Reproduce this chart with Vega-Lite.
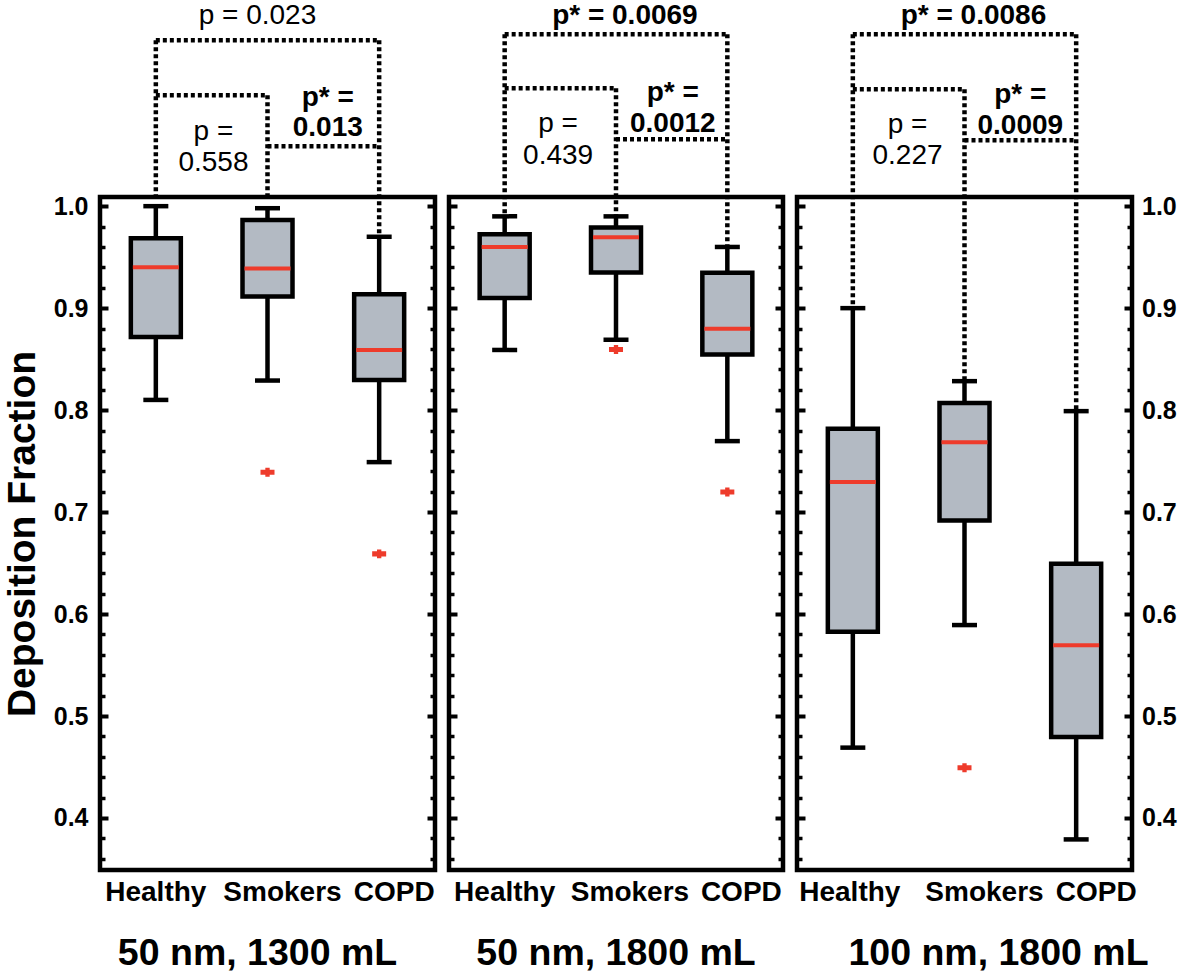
{
  "$schema": "https://vega.github.io/schema/vega-lite/v6.json",
  "padding": {"left": 0, "top": 0, "right": 0, "bottom": 0},
  "background": "white",
  "config": {
    "view": {"stroke": "black", "strokeWidth": 4.5},
    "font": "Liberation Sans",
    "concat": {"spacing": 4}
  },
  "datasets": {
    "boxes": [
      {"panel": "p1", "group": "Healthy", "min": 0.81, "q1": 0.8716, "median": 0.94, "q3": 0.9686, "max": 1.0},
      {"panel": "p1", "group": "Smokers", "min": 0.829, "q1": 0.9113, "median": 0.939, "q3": 0.9865, "max": 0.998},
      {"panel": "p1", "group": "COPD", "min": 0.749, "q1": 0.8296, "median": 0.859, "q3": 0.9137, "max": 0.970},
      {"panel": "p2", "group": "Healthy", "min": 0.859, "q1": 0.910, "median": 0.960, "q3": 0.9725, "max": 0.990},
      {"panel": "p2", "group": "Smokers", "min": 0.869, "q1": 0.935, "median": 0.9696, "q3": 0.979, "max": 0.990},
      {"panel": "p2", "group": "COPD", "min": 0.7696, "q1": 0.8546, "median": 0.8797, "q3": 0.9346, "max": 0.960},
      {"panel": "p3", "group": "Healthy", "min": 0.469, "q1": 0.5827, "median": 0.7294, "q3": 0.7817, "max": 0.90},
      {"panel": "p3", "group": "Smokers", "min": 0.5892, "q1": 0.6918, "median": 0.7686, "q3": 0.807, "max": 0.8284},
      {"panel": "p3", "group": "COPD", "min": 0.379, "q1": 0.4794, "median": 0.5693, "q3": 0.6493, "max": 0.799}
    ],
    "outliers": [
      {"panel": "p1", "group": "Smokers", "value": 0.739},
      {"panel": "p1", "group": "COPD", "value": 0.659},
      {"panel": "p2", "group": "Smokers", "value": 0.8595},
      {"panel": "p2", "group": "COPD", "value": 0.7196},
      {"panel": "p3", "group": "Smokers", "value": 0.4493}
    ],
    "brackets": [
      {"panel": "p1", "x": 0.5, "x2": 2.5, "y": 1.1627, "y2": 1.1627},
      {"panel": "p1", "x": 0.5, "x2": 1.5, "y": 1.1088, "y2": 1.1088},
      {"panel": "p1", "x": 1.5, "x2": 2.5, "y": 1.0588, "y2": 1.0588},
      {"panel": "p1", "x": 0.5, "x2": 0.5, "y": 1.1627, "y2": 1.0088},
      {"panel": "p1", "x": 1.5, "x2": 1.5, "y": 1.1088, "y2": 1.0088},
      {"panel": "p1", "x": 2.5, "x2": 2.5, "y": 1.1627, "y2": 0.970},
      {"panel": "p2", "x": 0.5, "x2": 2.5, "y": 1.1686, "y2": 1.1686},
      {"panel": "p2", "x": 0.5, "x2": 1.5, "y": 1.1157, "y2": 1.1157},
      {"panel": "p2", "x": 1.5, "x2": 2.5, "y": 1.0657, "y2": 1.0657},
      {"panel": "p2", "x": 0.5, "x2": 0.5, "y": 1.1686, "y2": 0.990},
      {"panel": "p2", "x": 1.5, "x2": 1.5, "y": 1.1157, "y2": 0.990},
      {"panel": "p2", "x": 2.5, "x2": 2.5, "y": 1.1686, "y2": 0.960},
      {"panel": "p3", "x": 0.5, "x2": 2.5, "y": 1.1686, "y2": 1.1686},
      {"panel": "p3", "x": 0.5, "x2": 1.5, "y": 1.1147, "y2": 1.1147},
      {"panel": "p3", "x": 1.5, "x2": 2.5, "y": 1.0647, "y2": 1.0647},
      {"panel": "p3", "x": 0.5, "x2": 0.5, "y": 1.1686, "y2": 0.90},
      {"panel": "p3", "x": 1.5, "x2": 1.5, "y": 1.1147, "y2": 0.8284},
      {"panel": "p3", "x": 2.5, "x2": 2.5, "y": 1.1686, "y2": 0.799}
    ],
    "notes": [
      {"panel": "p1", "label": "p = 0.023", "x": 1.41, "y": 1.1862, "bold": false},
      {"panel": "p1", "label": "p =", "x": 1.016, "y": 1.0725, "bold": false},
      {"panel": "p1", "label": "0.558", "x": 1.016, "y": 1.0422, "bold": false},
      {"panel": "p1", "label": "p* =", "x": 2.04, "y": 1.1059, "bold": true},
      {"panel": "p1", "label": "0.013", "x": 2.04, "y": 1.0765, "bold": true},
      {"panel": "p2", "label": "p* = 0.0069", "x": 1.58, "y": 1.1862, "bold": true},
      {"panel": "p2", "label": "p =", "x": 0.98, "y": 1.0804, "bold": false},
      {"panel": "p2", "label": "0.439", "x": 0.98, "y": 1.049, "bold": false},
      {"panel": "p2", "label": "p* =", "x": 2.01, "y": 1.1108, "bold": true},
      {"panel": "p2", "label": "0.0012", "x": 2.01, "y": 1.0804, "bold": true},
      {"panel": "p3", "label": "p* = 0.0086", "x": 1.58, "y": 1.1862, "bold": true},
      {"panel": "p3", "label": "p =", "x": 0.99, "y": 1.0794, "bold": false},
      {"panel": "p3", "label": "0.227", "x": 0.99, "y": 1.049, "bold": false},
      {"panel": "p3", "label": "p* =", "x": 2.0, "y": 1.1088, "bold": true},
      {"panel": "p3", "label": "0.0009", "x": 2.0, "y": 1.0784, "bold": true}
    ]
  },
  "hconcat": [
    {
      "width": 335, "height": 673,
      "title": {"text": "50 nm, 1300 mL", "orient": "bottom", "fontSize": 37.5, "fontWeight": "bold", "font": "Liberation Sans", "dx": -10, "offset": 29},
      "layer": [
        {
          "encoding": {"x": {"field": "group", "type": "nominal", "sort": ["Healthy", "Smokers", "COPD"], "scale": {"paddingInner": 0, "paddingOuter": 0}, "axis": {"orient": "bottom", "title": null, "ticks": false, "domain": false, "labelAngle": 0, "labelFontSize": 28, "labelFontWeight": "bold", "labelColor": "black", "labelPadding": 8, "labelOffset": {"condition": {"test": "datum.value == 'Healthy'", "value": 0}, "value": 15}}}},
          "layer": [
            {"data": {"name": "boxes"}, "transform": [{"filter": "datum.panel == 'p1'"}], "mark": {"type": "rule", "strokeWidth": 4.5, "color": "black"},
             "encoding": {"y": {"field": "min", "type": "quantitative", "scale": {"domain": [0.349, 1.009], "nice": false, "zero": false},
               "axis": {"orient": "left", "title": "Deposition Fraction", "titleFontSize": 39, "titleFontWeight": "bold", "titleColor": "black", "titlePadding": 11,
                 "domain": false, "grid": false, "values": [0.4, 0.5, 0.6, 0.7, 0.8, 0.9, 1.0], "format": ".1f",
                 "labelFontSize": 25, "labelFontWeight": "bold", "labelColor": "black", "labelPadding": 20,
                 "tickColor": "black", "tickWidth": 4, "tickSize": -8}},
               "y2": {"field": "max"}}},
            {"data": {"name": "boxes"}, "transform": [{"filter": "datum.panel == 'p1'"}], "mark": {"type": "bar", "width": 50, "fill": "#b3bac3", "stroke": "black", "strokeWidth": 4.5},
             "encoding": {"y": {"field": "q1", "type": "quantitative", "scale": {"domain": [0.349, 1.009], "nice": false, "zero": false},
               "axis": {"orient": "left", "title": null, "labels": false, "domain": false, "grid": false, "values": [0.36,0.38,0.42,0.44,0.46,0.48,0.52,0.54,0.56,0.58,0.62,0.64,0.66,0.68,0.72,0.74,0.76,0.78,0.82,0.84,0.86,0.88,0.92,0.94,0.96,0.98], "tickColor": "black", "tickWidth": 3.5, "tickSize": -5}},
               "y2": {"field": "q3"}}},
            {"data": {"name": "boxes"}, "transform": [{"filter": "datum.panel == 'p1'"}], "mark": {"type": "tick", "color": "#ee3b2b", "thickness": 4, "size": 46, "opacity": 1},
             "encoding": {"y": {"field": "median", "type": "quantitative", "scale": {"domain": [0.349, 1.009], "nice": false, "zero": false}, "axis": null}}},
            {"data": {"name": "boxes"}, "transform": [{"filter": "datum.panel == 'p1'"}], "mark": {"type": "tick", "color": "black", "thickness": 4.5, "size": 25, "opacity": 1},
             "encoding": {"y": {"field": "min", "type": "quantitative", "scale": {"domain": [0.349, 1.009], "nice": false, "zero": false}, "axis": null}}},
            {"data": {"name": "boxes"}, "transform": [{"filter": "datum.panel == 'p1'"}], "mark": {"type": "tick", "color": "black", "thickness": 4.5, "size": 25, "opacity": 1},
             "encoding": {"y": {"field": "max", "type": "quantitative", "scale": {"domain": [0.349, 1.009], "nice": false, "zero": false}, "axis": null}}},
            {"data": {"name": "outliers"}, "transform": [{"filter": "datum.panel == 'p1'"}], "mark": {"type": "point", "shape": "M-1,-0.36H-0.31V-0.64H0.31V-0.36H1V0.36H0.31V0.64H-0.31V0.36H-1Z", "size": 196, "filled": true, "color": "#ee3b2b", "opacity": 1},
             "encoding": {"y": {"field": "value", "type": "quantitative", "scale": {"domain": [0.349, 1.009], "nice": false, "zero": false}, "axis": null}}}
          ],
          "resolve": {"axis": {"y": "independent"}}
        },
        {
          "layer": [
            {"data": {"name": "brackets"}, "transform": [{"filter": "datum.panel == 'p1'"}], "mark": {"type": "rule", "strokeWidth": 4.5, "strokeDash": [4, 3], "color": "black", "clip": false},
             "encoding": {"x": {"field": "x", "type": "quantitative", "scale": {"domain": [0, 3], "nice": false, "zero": false}, "axis": null}, "x2": {"field": "x2"},
               "y": {"field": "y", "type": "quantitative", "scale": {"domain": [0.349, 1.009], "nice": false, "zero": false},
                 "axis": {"orient": "right", "title": null, "domain": false, "grid": false, "labels": false, "values": [0.4, 0.5, 0.6, 0.7, 0.8, 0.9, 1.0], "tickColor": "black", "tickWidth": 4, "tickSize": -8}},
               "y2": {"field": "y2"}}},
            {"data": {"name": "notes"}, "transform": [{"filter": "datum.panel == 'p1' && !datum.bold"}], "mark": {"type": "text", "fontSize": 28, "font": "Liberation Sans", "align": "center", "baseline": "middle", "color": "black", "clip": false},
             "encoding": {"x": {"field": "x", "type": "quantitative", "scale": {"domain": [0, 3], "nice": false, "zero": false}, "axis": null},
               "y": {"field": "y", "type": "quantitative", "scale": {"domain": [0.349, 1.009], "nice": false, "zero": false},
                 "axis": {"orient": "right", "title": null, "labels": false, "domain": false, "grid": false, "values": [0.36,0.38,0.42,0.44,0.46,0.48,0.52,0.54,0.56,0.58,0.62,0.64,0.66,0.68,0.72,0.74,0.76,0.78,0.82,0.84,0.86,0.88,0.92,0.94,0.96,0.98], "tickColor": "black", "tickWidth": 3.5, "tickSize": -5}},
               "text": {"field": "label"}}},
            {"data": {"name": "notes"}, "transform": [{"filter": "datum.panel == 'p1' && datum.bold"}], "mark": {"type": "text", "fontSize": 28, "fontWeight": "bold", "font": "Liberation Sans", "align": "center", "baseline": "middle", "color": "black", "clip": false},
             "encoding": {"x": {"field": "x", "type": "quantitative", "scale": {"domain": [0, 3], "nice": false, "zero": false}, "axis": null}, "y": {"field": "y", "type": "quantitative", "scale": {"domain": [0.349, 1.009], "nice": false, "zero": false}, "axis": null}, "text": {"field": "label"}}}
          ],
          "resolve": {"axis": {"y": "independent"}}
        }
      ],
      "resolve": {"scale": {"x": "independent"}, "axis": {"y": "independent", "x": "independent"}}
    },
    {
      "width": 334, "height": 673,
      "title": {"text": "50 nm, 1800 mL", "orient": "bottom", "fontSize": 37.5, "fontWeight": "bold", "font": "Liberation Sans", "offset": 29},
      "layer": [
        {
          "encoding": {"x": {"field": "group", "type": "nominal", "sort": ["Healthy", "Smokers", "COPD"], "scale": {"paddingInner": 0, "paddingOuter": 0}, "axis": {"orient": "bottom", "title": null, "ticks": false, "domain": false, "labelAngle": 0, "labelFontSize": 28, "labelFontWeight": "bold", "labelColor": "black", "labelPadding": 8, "labelOffset": {"condition": {"test": "datum.value == 'Healthy'", "value": 0}, "value": 14}}}},
          "layer": [
            {"data": {"name": "boxes"}, "transform": [{"filter": "datum.panel == 'p2'"}], "mark": {"type": "rule", "strokeWidth": 4.5, "color": "black"},
             "encoding": {"y": {"field": "min", "type": "quantitative", "scale": {"domain": [0.349, 1.009], "nice": false, "zero": false},
               "axis": {"orient": "left", "title": null, "labels": false, "domain": false, "grid": false, "values": [0.4, 0.5, 0.6, 0.7, 0.8, 0.9, 1.0], "tickColor": "black", "tickWidth": 4, "tickSize": -8}},
               "y2": {"field": "max"}}},
            {"data": {"name": "boxes"}, "transform": [{"filter": "datum.panel == 'p2'"}], "mark": {"type": "bar", "width": 50, "fill": "#b3bac3", "stroke": "black", "strokeWidth": 4.5},
             "encoding": {"y": {"field": "q1", "type": "quantitative", "scale": {"domain": [0.349, 1.009], "nice": false, "zero": false},
               "axis": {"orient": "left", "title": null, "labels": false, "domain": false, "grid": false, "values": [0.36,0.38,0.42,0.44,0.46,0.48,0.52,0.54,0.56,0.58,0.62,0.64,0.66,0.68,0.72,0.74,0.76,0.78,0.82,0.84,0.86,0.88,0.92,0.94,0.96,0.98], "tickColor": "black", "tickWidth": 3.5, "tickSize": -5}},
               "y2": {"field": "q3"}}},
            {"data": {"name": "boxes"}, "transform": [{"filter": "datum.panel == 'p2'"}], "mark": {"type": "tick", "color": "#ee3b2b", "thickness": 4, "size": 46, "opacity": 1},
             "encoding": {"y": {"field": "median", "type": "quantitative", "scale": {"domain": [0.349, 1.009], "nice": false, "zero": false}, "axis": null}}},
            {"data": {"name": "boxes"}, "transform": [{"filter": "datum.panel == 'p2'"}], "mark": {"type": "tick", "color": "black", "thickness": 4.5, "size": 25, "opacity": 1},
             "encoding": {"y": {"field": "min", "type": "quantitative", "scale": {"domain": [0.349, 1.009], "nice": false, "zero": false}, "axis": null}}},
            {"data": {"name": "boxes"}, "transform": [{"filter": "datum.panel == 'p2'"}], "mark": {"type": "tick", "color": "black", "thickness": 4.5, "size": 25, "opacity": 1},
             "encoding": {"y": {"field": "max", "type": "quantitative", "scale": {"domain": [0.349, 1.009], "nice": false, "zero": false}, "axis": null}}},
            {"data": {"name": "outliers"}, "transform": [{"filter": "datum.panel == 'p2'"}], "mark": {"type": "point", "shape": "M-1,-0.36H-0.31V-0.64H0.31V-0.36H1V0.36H0.31V0.64H-0.31V0.36H-1Z", "size": 196, "filled": true, "color": "#ee3b2b", "opacity": 1},
             "encoding": {"y": {"field": "value", "type": "quantitative", "scale": {"domain": [0.349, 1.009], "nice": false, "zero": false}, "axis": null}}}
          ],
          "resolve": {"axis": {"y": "independent"}}
        },
        {
          "layer": [
            {"data": {"name": "brackets"}, "transform": [{"filter": "datum.panel == 'p2'"}], "mark": {"type": "rule", "strokeWidth": 4.5, "strokeDash": [4, 3], "color": "black", "clip": false},
             "encoding": {"x": {"field": "x", "type": "quantitative", "scale": {"domain": [0, 3], "nice": false, "zero": false}, "axis": null}, "x2": {"field": "x2"},
               "y": {"field": "y", "type": "quantitative", "scale": {"domain": [0.349, 1.009], "nice": false, "zero": false},
                 "axis": {"orient": "right", "title": null, "domain": false, "grid": false, "labels": false, "values": [0.4, 0.5, 0.6, 0.7, 0.8, 0.9, 1.0], "tickColor": "black", "tickWidth": 4, "tickSize": -8}},
               "y2": {"field": "y2"}}},
            {"data": {"name": "notes"}, "transform": [{"filter": "datum.panel == 'p2' && !datum.bold"}], "mark": {"type": "text", "fontSize": 28, "font": "Liberation Sans", "align": "center", "baseline": "middle", "color": "black", "clip": false},
             "encoding": {"x": {"field": "x", "type": "quantitative", "scale": {"domain": [0, 3], "nice": false, "zero": false}, "axis": null},
               "y": {"field": "y", "type": "quantitative", "scale": {"domain": [0.349, 1.009], "nice": false, "zero": false},
                 "axis": {"orient": "right", "title": null, "labels": false, "domain": false, "grid": false, "values": [0.36,0.38,0.42,0.44,0.46,0.48,0.52,0.54,0.56,0.58,0.62,0.64,0.66,0.68,0.72,0.74,0.76,0.78,0.82,0.84,0.86,0.88,0.92,0.94,0.96,0.98], "tickColor": "black", "tickWidth": 3.5, "tickSize": -5}},
               "text": {"field": "label"}}},
            {"data": {"name": "notes"}, "transform": [{"filter": "datum.panel == 'p2' && datum.bold"}], "mark": {"type": "text", "fontSize": 28, "fontWeight": "bold", "font": "Liberation Sans", "align": "center", "baseline": "middle", "color": "black", "clip": false},
             "encoding": {"x": {"field": "x", "type": "quantitative", "scale": {"domain": [0, 3], "nice": false, "zero": false}, "axis": null}, "y": {"field": "y", "type": "quantitative", "scale": {"domain": [0.349, 1.009], "nice": false, "zero": false}, "axis": null}, "text": {"field": "label"}}}
          ],
          "resolve": {"axis": {"y": "independent"}}
        }
      ],
      "resolve": {"scale": {"x": "independent"}, "axis": {"y": "independent", "x": "independent"}}
    },
    {
      "width": 335, "height": 673,
      "title": {"text": "100 nm, 1800 mL", "orient": "bottom", "fontSize": 37.5, "fontWeight": "bold", "font": "Liberation Sans", "dx": 34, "offset": 29},
      "layer": [
        {
          "encoding": {"x": {"field": "group", "type": "nominal", "sort": ["Healthy", "Smokers", "COPD"], "scale": {"paddingInner": 0, "paddingOuter": 0}, "axis": {"orient": "bottom", "title": null, "ticks": false, "domain": false, "labelAngle": 0, "labelFontSize": 28, "labelFontWeight": "bold", "labelColor": "black", "labelPadding": 8, "labelOffset": {"condition": {"test": "datum.value == 'Healthy'", "value": -3}, "value": 20}}}},
          "layer": [
            {"data": {"name": "boxes"}, "transform": [{"filter": "datum.panel == 'p3'"}], "mark": {"type": "rule", "strokeWidth": 4.5, "color": "black"},
             "encoding": {"y": {"field": "min", "type": "quantitative", "scale": {"domain": [0.349, 1.009], "nice": false, "zero": false},
               "axis": {"orient": "left", "title": null, "labels": false, "domain": false, "grid": false, "values": [0.4, 0.5, 0.6, 0.7, 0.8, 0.9, 1.0], "tickColor": "black", "tickWidth": 4, "tickSize": -8}},
               "y2": {"field": "max"}}},
            {"data": {"name": "boxes"}, "transform": [{"filter": "datum.panel == 'p3'"}], "mark": {"type": "bar", "width": 50, "fill": "#b3bac3", "stroke": "black", "strokeWidth": 4.5},
             "encoding": {"y": {"field": "q1", "type": "quantitative", "scale": {"domain": [0.349, 1.009], "nice": false, "zero": false},
               "axis": {"orient": "left", "title": null, "labels": false, "domain": false, "grid": false, "values": [0.36,0.38,0.42,0.44,0.46,0.48,0.52,0.54,0.56,0.58,0.62,0.64,0.66,0.68,0.72,0.74,0.76,0.78,0.82,0.84,0.86,0.88,0.92,0.94,0.96,0.98], "tickColor": "black", "tickWidth": 3.5, "tickSize": -5}},
               "y2": {"field": "q3"}}},
            {"data": {"name": "boxes"}, "transform": [{"filter": "datum.panel == 'p3'"}], "mark": {"type": "tick", "color": "#ee3b2b", "thickness": 4, "size": 46, "opacity": 1},
             "encoding": {"y": {"field": "median", "type": "quantitative", "scale": {"domain": [0.349, 1.009], "nice": false, "zero": false}, "axis": null}}},
            {"data": {"name": "boxes"}, "transform": [{"filter": "datum.panel == 'p3'"}], "mark": {"type": "tick", "color": "black", "thickness": 4.5, "size": 25, "opacity": 1},
             "encoding": {"y": {"field": "min", "type": "quantitative", "scale": {"domain": [0.349, 1.009], "nice": false, "zero": false}, "axis": null}}},
            {"data": {"name": "boxes"}, "transform": [{"filter": "datum.panel == 'p3'"}], "mark": {"type": "tick", "color": "black", "thickness": 4.5, "size": 25, "opacity": 1},
             "encoding": {"y": {"field": "max", "type": "quantitative", "scale": {"domain": [0.349, 1.009], "nice": false, "zero": false}, "axis": null}}},
            {"data": {"name": "outliers"}, "transform": [{"filter": "datum.panel == 'p3'"}], "mark": {"type": "point", "shape": "M-1,-0.36H-0.31V-0.64H0.31V-0.36H1V0.36H0.31V0.64H-0.31V0.36H-1Z", "size": 196, "filled": true, "color": "#ee3b2b", "opacity": 1},
             "encoding": {"y": {"field": "value", "type": "quantitative", "scale": {"domain": [0.349, 1.009], "nice": false, "zero": false}, "axis": null}}}
          ],
          "resolve": {"axis": {"y": "independent"}}
        },
        {
          "layer": [
            {"data": {"name": "brackets"}, "transform": [{"filter": "datum.panel == 'p3'"}], "mark": {"type": "rule", "strokeWidth": 4.5, "strokeDash": [4, 3], "color": "black", "clip": false},
             "encoding": {"x": {"field": "x", "type": "quantitative", "scale": {"domain": [0, 3], "nice": false, "zero": false}, "axis": null}, "x2": {"field": "x2"},
               "y": {"field": "y", "type": "quantitative", "scale": {"domain": [0.349, 1.009], "nice": false, "zero": false},
                 "axis": {"orient": "right", "title": null, "domain": false, "grid": false, "values": [0.4, 0.5, 0.6, 0.7, 0.8, 0.9, 1.0], "format": ".1f",
                   "labelFontSize": 25, "labelFontWeight": "bold", "labelColor": "black", "labelPadding": 17.5,
                   "tickColor": "black", "tickWidth": 4, "tickSize": -8}},
               "y2": {"field": "y2"}}},
            {"data": {"name": "notes"}, "transform": [{"filter": "datum.panel == 'p3' && !datum.bold"}], "mark": {"type": "text", "fontSize": 28, "font": "Liberation Sans", "align": "center", "baseline": "middle", "color": "black", "clip": false},
             "encoding": {"x": {"field": "x", "type": "quantitative", "scale": {"domain": [0, 3], "nice": false, "zero": false}, "axis": null},
               "y": {"field": "y", "type": "quantitative", "scale": {"domain": [0.349, 1.009], "nice": false, "zero": false},
                 "axis": {"orient": "right", "title": null, "labels": false, "domain": false, "grid": false, "values": [0.36,0.38,0.42,0.44,0.46,0.48,0.52,0.54,0.56,0.58,0.62,0.64,0.66,0.68,0.72,0.74,0.76,0.78,0.82,0.84,0.86,0.88,0.92,0.94,0.96,0.98], "tickColor": "black", "tickWidth": 3.5, "tickSize": -5}},
               "text": {"field": "label"}}},
            {"data": {"name": "notes"}, "transform": [{"filter": "datum.panel == 'p3' && datum.bold"}], "mark": {"type": "text", "fontSize": 28, "fontWeight": "bold", "font": "Liberation Sans", "align": "center", "baseline": "middle", "color": "black", "clip": false},
             "encoding": {"x": {"field": "x", "type": "quantitative", "scale": {"domain": [0, 3], "nice": false, "zero": false}, "axis": null}, "y": {"field": "y", "type": "quantitative", "scale": {"domain": [0.349, 1.009], "nice": false, "zero": false}, "axis": null}, "text": {"field": "label"}}}
          ],
          "resolve": {"axis": {"y": "independent"}}
        }
      ],
      "resolve": {"scale": {"x": "independent"}, "axis": {"y": "independent", "x": "independent"}}
    }
  ]
}
